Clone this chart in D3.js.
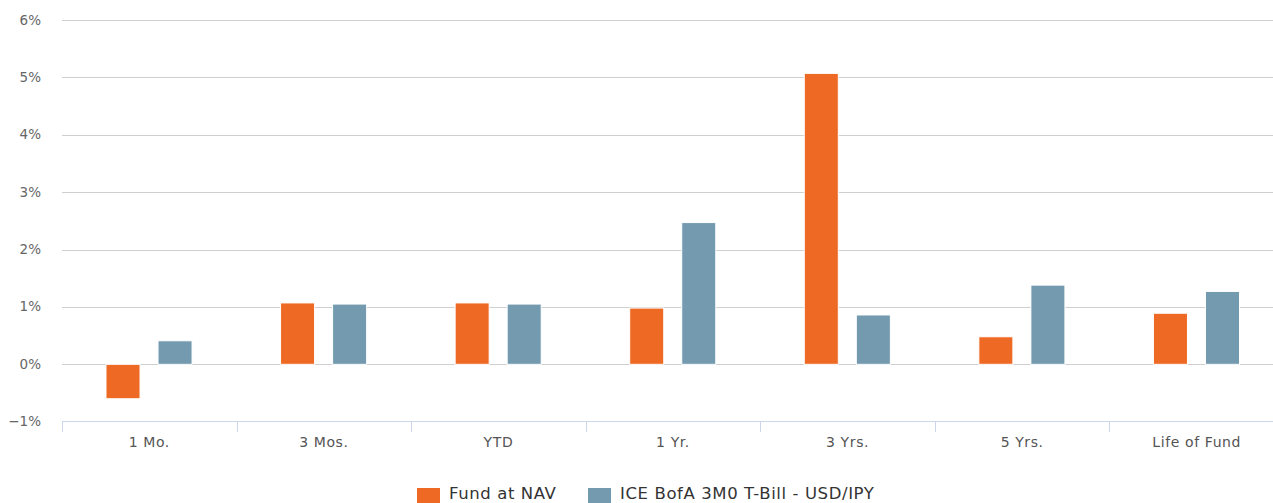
<!DOCTYPE html>
<html><head><meta charset="utf-8">
<script src="https://cdn.jsdelivr.net/npm/d3@7"></script>
<style>body{margin:0;background:#fff;}svg{display:block;}</style>
</head><body>
<script>
const categories = ["1 Mo.", "3 Mos.", "YTD", "1 Yr.", "3 Yrs.", "5 Yrs.", "Life of Fund"];
const seriesNames = ["Fund at NAV", "ICE BofA 3M0 T-Bill - USD/IPY"];
const fundValues = [-0.60, 1.07, 1.07, 0.98, 5.07, 0.48, 0.89];
const benchValues = [0.41, 1.05, 1.05, 2.47, 0.86, 1.38, 1.27];
const yTicks = [-1, 0, 1, 2, 3, 4, 5, 6];
const colors = ["#EE6A24", "#739AAF"];

const W = 1273, H = 503;
const svg = d3.select("body").append("svg").attr("width", W).attr("height", H).style("overflow","hidden");
const font = "'DejaVu Sans', sans-serif";

const x0 = d3.scaleBand().domain(categories).range([62, 1284]).padding(0);
const bw = x0.bandwidth();
const x1 = d3.scaleBand().domain(seriesNames).range([bw*0.252, bw*0.745]).paddingInner(0.346).paddingOuter(0);
const y = d3.scaleLinear().domain([-1, 6]).range([421.7, 20]);

// gridlines
svg.append("g").selectAll("line").data(yTicks.filter(t => t > -1)).join("line")
  .attr("x1", 62).attr("x2", W).attr("y1", d => Math.round(y(d)) + 0.5).attr("y2", d => Math.round(y(d)) + 0.5)
  .attr("stroke", "#cfcfcf").attr("stroke-width", 1);

// y labels
svg.append("g").selectAll("text").data(yTicks).join("text")
  .attr("x", 41).attr("y", d => y(d) + 4.5).attr("text-anchor", "end")
  .attr("font-family", font).attr("font-size", 13.5).attr("fill", "#666")
  .text(d => (d < 0 ? "\u2212" + Math.abs(d) : d) + "%");

// bars
const rows = categories.map((c, i) => ({cat: c, vals: [fundValues[i], benchValues[i]]}));
const g = svg.append("g");
rows.forEach(r => {
  r.vals.forEach((v, j) => {
    const s = seriesNames[j];
    g.append("rect")
      .attr("x", x0(r.cat) + x1(s))
      .attr("width", x1.bandwidth())
      .attr("y", Math.min(y(v), y(0)))
      .attr("height", Math.abs(y(v) - y(0)))
      .attr("fill", colors[j]).attr("stroke", "#fff").attr("stroke-width", 1);
  });
});

// x axis
const ax = svg.append("g");
ax.append("line").attr("x1", 62).attr("x2", W).attr("y1", 421.5).attr("y2", 421.5).attr("stroke", "#ccd6eb");
const bounds = categories.map(c => x0(c)).concat([x0.range()[1]]);
ax.selectAll("line.tick").data(bounds).join("line").attr("class", "tick")
  .attr("x1", d => Math.round(d) + 0.5).attr("x2", d => Math.round(d) + 0.5)
  .attr("y1", 421.5).attr("y2", 432).attr("stroke", "#ccd6eb");
ax.selectAll("text").data(categories).join("text")
  .attr("x", d => x0(d) + bw / 2).attr("y", 447)
  .attr("text-anchor", "middle").attr("font-family", font).attr("font-size", 14)
  .attr("letter-spacing", 0.6).attr("fill", "#555").text(d => d);

// legend
const leg = svg.append("g");
const legX = [417, 588];
seriesNames.forEach((s, j) => {
  leg.append("rect").attr("x", legX[j]).attr("y", 488).attr("width", 23).attr("height", 16).attr("fill", colors[j]);
  leg.append("text").attr("x", legX[j] + 32).attr("y", 498.5)
    .attr("font-family", font).attr("font-size", 16.5).attr("letter-spacing", 0.6)
    .attr("fill", "#333").text(s);
});
</script>
</body></html>
